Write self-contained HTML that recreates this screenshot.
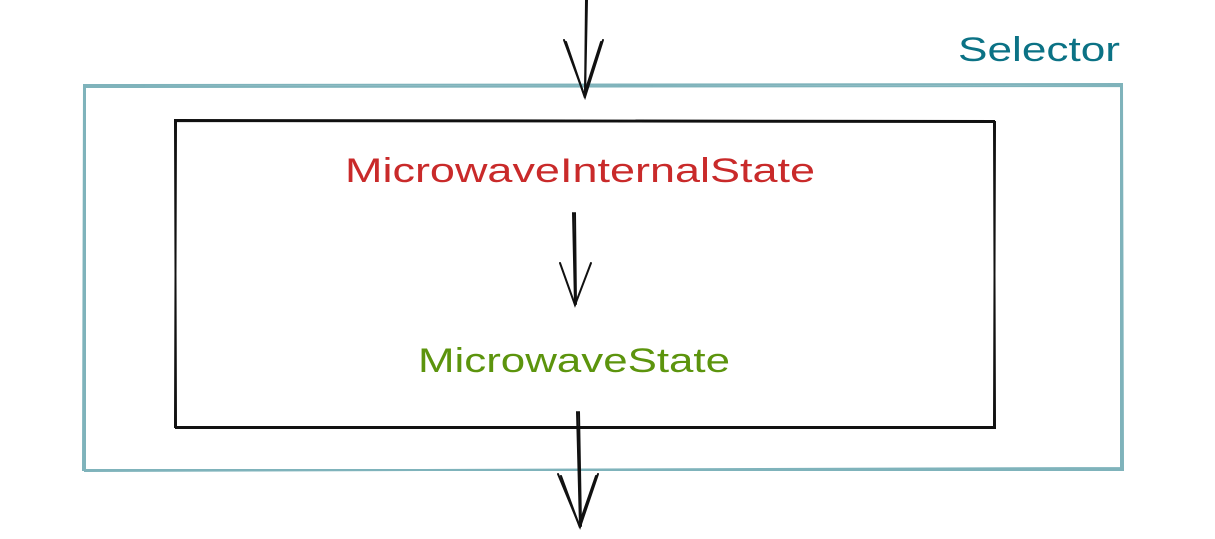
<!DOCTYPE html>
<html>
<head>
<meta charset="utf-8">
<style>
  html,body{margin:0;padding:0;background:#fff;}
  svg{display:block;}
  text{font-family:"Liberation Sans", "DejaVu Sans", sans-serif;}
</style>
</head>
<body>
<svg width="1215" height="539" viewBox="0 0 1215 539">
  <!-- outer selector box -->
  <g fill="none" stroke="#7fb3bb" stroke-width="2">
    <path d="M84 85 L1122 84 L1123 470 L83 470 Z"/>
    <path d="M85 87 L1121 86 L1121 468 L85 471 Z"/>
  </g>
  <text x="958" y="61" font-size="34" fill="#0b7285" textLength="162" lengthAdjust="spacingAndGlyphs">Selector</text>

  <!-- inner box -->
  <g fill="none" stroke="#111" stroke-width="2">
    <path d="M175 120 L994 121 L995 428 L176 428 Z"/>
    <path d="M176 121 L995 122 L994 427 L175 427 Z"/>
  </g>

  <text x="345" y="182" font-size="34" fill="#c92a2a" textLength="470" lengthAdjust="spacingAndGlyphs">MicrowaveInternalState</text>
  <text x="418" y="372" font-size="34" fill="#5c940d" textLength="312" lengthAdjust="spacingAndGlyphs">MicrowaveState</text>

  <!-- arrows -->
  <g fill="none" stroke="#111" stroke-width="2" stroke-linecap="round">
    <path d="M586 0 L585 97"/><path d="M587 0 L585 96"/>
    <path d="M564 40 L585 97 L603 40"/>
    <path d="M566 42 L584 95 L601 42"/>
  </g>
  <g fill="none" stroke="#111" stroke-width="2" stroke-linecap="round">
    <path d="M573 213 L575 305"/><path d="M575 213 L576 304"/>
    <path d="M560 263 L575 305 L591 263"/>
  </g>
  <g fill="none" stroke="#111" stroke-width="2" stroke-linecap="round">
    <path d="M577 412 L580 527"/><path d="M579 412 L581 526"/>
    <path d="M558 474 L580 527 L598 474"/>
    <path d="M561 476 L579 525 L596 476"/>
  </g>
</svg>
</body>
</html>
